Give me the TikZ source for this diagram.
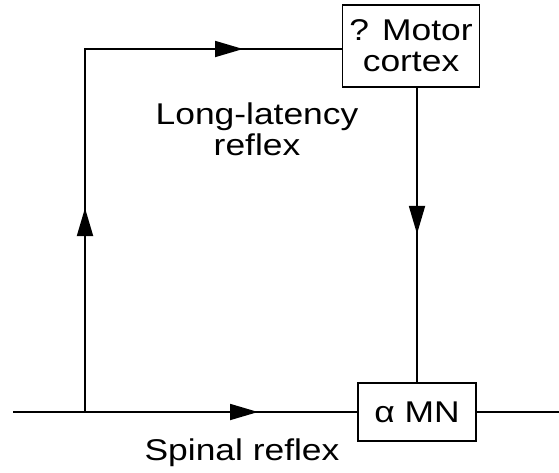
\documentclass[tikz,border=0pt]{standalone}
\usepackage{fontspec}
\setmainfont{Liberation Sans}[FakeStretch=1.18]
\usepackage{tikz}
\usetikzlibrary{arrows.meta, decorations.markings}

\tikzset{
  flowtip/.tip={Triangle[length=28pt, width=16pt]},
  flow/.style={line width=1.8pt, black},
  tipmark/.style={postaction={decorate, decoration={markings,
      mark=at position #1 with {\arrow{flowtip}}}}},
  stagebox/.style={draw, line width=1.8pt, fill=white, align=center,
      inner sep=0pt, font=\fontsize{30}{31}\selectfont},
  labeltext/.style={align=center, inner sep=0pt, font=\fontsize{30}{31}\selectfont}
}

\begin{document}
\begin{tikzpicture}[x=1pt, y=-1pt]
  \useasboundingbox (0,0) rectangle (559,472);
  % Boxes
  \node[stagebox, minimum width=137pt, minimum height=82pt] (mc) at (411,46) {? Motor\\cortex};
  \node[stagebox, minimum width=118pt, minimum height=58pt] (mn) at (417,412) {α MN};
  % Line ends and corner
  \coordinate (in) at (13,412);
  \coordinate (out) at (559,412);
  \coordinate (j) at (85,412);
  \coordinate (c) at (85,49);
  % Spinal path
  \draw[flow, tipmark=245pt] (in) -- (mn.west);
  \draw[flow] (mn.east) -- (out);
  % Long-latency loop
  \draw[flow, line join=miter, tipmark=204pt, tipmark=521pt] (j) -- (c) -- (c -| mc.west);
  \draw[flow, tipmark=146pt] (mc.south -| mn.north) -- (mn.north);
  % Labels
  \node[labeltext] (ll) at (257,129) {Long-latency\\reflex};
  \node[labeltext, anchor=base] (sr) at (242,460) {Spinal reflex};
\end{tikzpicture}
\end{document}
